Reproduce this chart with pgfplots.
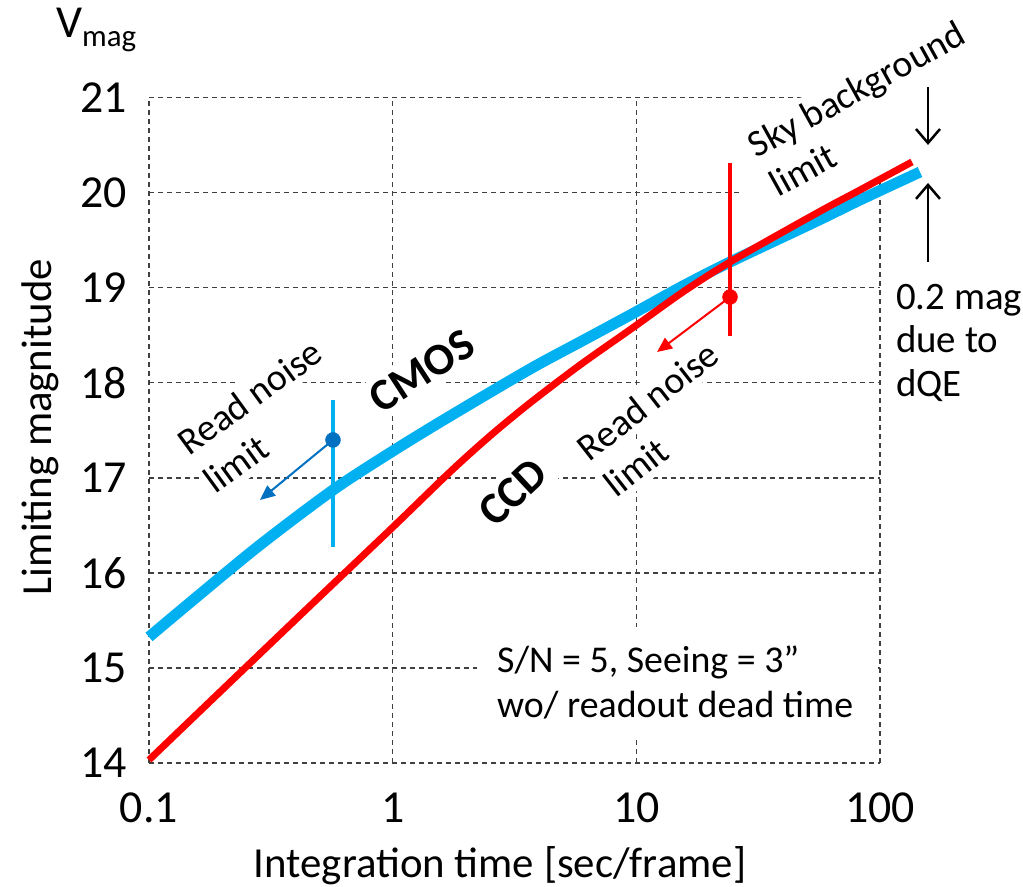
\documentclass[border=0pt]{standalone}
\usepackage{fontspec}
\setmainfont{Carlito}
\usepackage{pgfplots}
\usepackage{pgfplotstable}
\pgfplotsset{compat=1.18}
\usetikzlibrary{arrows.meta}

\definecolor{cmos}{HTML}{00B0F0}
\definecolor{ccd}{HTML}{FF0000}
\definecolor{dotblue}{HTML}{0070C0}
\definecolor{gridgray}{HTML}{404040}

% limiting magnitude vs integration time
\pgfplotstableread{
t mag
0.1    15.326
0.157  15.747
0.2854 16.294
0.569  16.872
1.003  17.283
1.719  17.650
3.661  18.145
5.874  18.429
9.78   18.735
15.54  19.019
24.24  19.271
55.13  19.703
82.78  19.924
145.9  20.218
}\cmostable

\pgfplotstableread{
t mag
0.1    14.032
0.243  14.979
0.471  15.683
1.003  16.483
1.719  17.062
2.508  17.441
3.661  17.788
5.874  18.188
9.78   18.588
15.54  18.956
24.24  19.271
55.13  19.787
82.78  20.029
135.3  20.324
}\ccdtable

\pgfplotsset{
  plotframe/.style={
    at={(149bp,124bp)}, anchor=south west, scale only axis,
    width=731bp, height=665.3bp,
    xmin=0.1, xmax=100, ymin=14, ymax=21,
  }
}

\begin{document}
\begin{tikzpicture}
% grid and tick labels
\begin{semilogxaxis}[plotframe,
  xtick={0.1,1,10,100}, xticklabels={0.1,1,10,100},
  ytick={14,15,16,17,18,19,20,21},
  yticklabels={14,15,16,17,18,19,20,21},
  xminorticks=false, major tick length=0pt,
  grid=major,
  major grid style={gridgray, line width=1.3bp, dash pattern=on 5bp off 4bp},
  axis line style={draw=none},
  tick label style={font=\fontsize{46}{52}\selectfont, inner sep=0pt},
  xticklabel style={anchor=north, yshift=-30bp},
  yticklabel style={anchor=east, xshift=-22bp},
]
\addplot[draw=none] coordinates {(1,15)};
\end{semilogxaxis}

% text boxes and labels (page units, origin at top left)
\begin{scope}[x=1bp, y=-1bp, yshift=887bp,
  lbl/.style={font=\fontsize{38}{44}\selectfont, fill=white, inner xsep=2bp, inner ysep=6bp},
  bold/.style={font=\fontsize{45}{50}\selectfont\bfseries, fill=white, inner sep=6bp},
  txt/.style={anchor=base west, inner sep=0pt, font=\fontsize{38}{44}\selectfont}]
  \node[fill=white, rotate=29, minimum width=250bp, minimum height=105bp, inner sep=0pt] at (852,136) {};
  \fill[white] (477,627) rectangle (876,739);

  \node[lbl, rotate=29, anchor=base west] at (755,160) {Sky background};
  \node[lbl, rotate=29, anchor=base west] at (777,199) {limit};

  \node[lbl, rotate=36, anchor=base west] at (188,458) {Read noise};
  \node[lbl, rotate=36, anchor=base west] at (214,496) {limit};

  \node[lbl, rotate=38, anchor=base west] at (588,464) {Read noise};
  \node[lbl, rotate=38, anchor=base west] at (615,500) {limit};

  \node[bold, rotate=33] at (422,371) {CMOS};
  \node[bold, rotate=43] at (513,492) {CCD};

  \node[txt] at (497,673) {S/N = 5, Seeing = 3''};
  \node[txt] at (497,718) {wo/ readout dead time};

  \node[txt, font=\fontsize{39}{44}\selectfont] at (896,310) {0.2 mag};
  \node[txt, font=\fontsize{39}{44}\selectfont] at (896,353) {due to};
  \node[txt, font=\fontsize{39}{44}\selectfont] at (896,397) {dQE};

  \node[anchor=base west, inner sep=0pt, font=\fontsize{46}{48}\selectfont] at (56,38)
    {V\raisebox{-9bp}{\fontsize{31}{33}\selectfont mag}};
  \node[anchor=base, inner sep=0pt, font=\fontsize{43}{48}\selectfont] at (500,878)
    {Integration time [sec/frame]};
  \node[anchor=base, rotate=90, inner sep=0pt, font=\fontsize{43}{48}\selectfont] at (51,427)
    {Limiting magnitude};
\end{scope}

% curves and markers
\begin{semilogxaxis}[plotframe, hide axis, clip=false]
\addplot[cmos, line width=11bp, smooth, tension=0.5] table[x=t, y=mag] {\cmostable};
\addplot[ccd, line width=7bp, smooth, tension=0.5] table[x=t, y=mag] {\ccdtable};

\addplot[cmos, line width=4bp] coordinates {(0.569,16.273) (0.569,17.819)};
\addplot[dotblue, line width=2bp, -{Triangle[length=15bp,width=13bp]}]
  coordinates {(0.569,17.399) (0.2854,16.767)};
\addplot[only marks, mark=*, mark size=7.5bp, dotblue, mark options={draw=none}]
  coordinates {(0.569,17.399)};

\addplot[ccd, line width=4bp] coordinates {(24.24,18.493) (24.24,20.313)};
\addplot[ccd, line width=2bp, -{Triangle[length=15bp,width=13bp]}]
  coordinates {(24.24,18.903) (12.16,18.324)};
\addplot[only marks, mark=*, mark size=7.5bp, ccd, mark options={draw=none}]
  coordinates {(24.24,18.903)};

\addplot[black, line width=2.5bp, -{Straight Barb[length=14bp,width=24bp]}]
  coordinates {(157.4,21.113) (157.4,20.503)};
\addplot[black, line width=2.5bp, -{Straight Barb[length=14bp,width=24bp]}]
  coordinates {(157.4,19.272) (157.4,20.103)};
\end{semilogxaxis}

\pgfresetboundingbox
\path (0,0) rectangle (1023bp,887bp);
\end{tikzpicture}
\end{document}
